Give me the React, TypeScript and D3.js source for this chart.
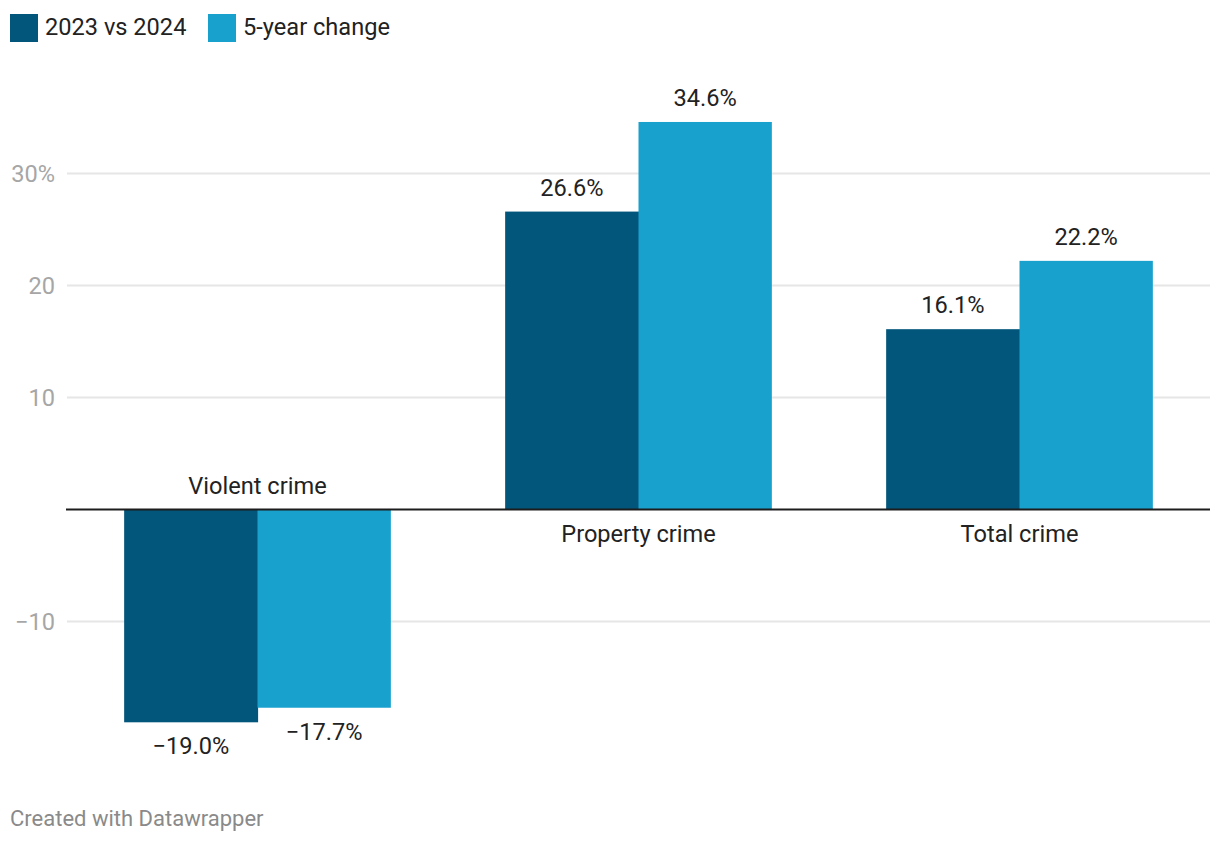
import React from "react";
import * as d3 from "d3";

const categories = ["Violent crime", "Property crime", "Total crime"];
const seriesNames = ["2023 vs 2024", "5-year change"];
const series2023vs2024 = [-19.0, 26.6, 16.1];
const seriesFiveYear = [-17.7, 34.6, 22.2];
const yTicks = [-10, 10, 20, 30];
const colors = ["#02557b", "#19a1cd"];

const fmtVal = (v: number) => (v < 0 ? "\u2212" : "") + Math.abs(v).toFixed(1) + "%";
const fmtTick = (v: number) => (v < 0 ? "\u2212" : "") + Math.abs(v) + (v === 30 ? "%" : "");

export default function App() {
  const W = 1220, H = 844;
  const x0 = d3.scaleBand<string>().domain(categories).range([67, 1210]).paddingInner(0.3).paddingOuter(0.15);
  const x1 = d3.scaleBand<string>().domain(seriesNames).range([0, x0.bandwidth()]);
  const y = d3.scaleLinear().domain([-10, 30]).range([621.5, 173.5]);
  const values = [series2023vs2024, seriesFiveYear];
  const font = "Roboto, 'Noto Sans', sans-serif";
  const fs = 23.6;
  const zero = y(0);

  return (
    <svg width={W} height={H} style={{ position: "absolute", left: 0, top: 0, background: "#fff" }} fontFamily={font}>
      {/* legend */}
      {seriesNames.map((s, i) => {
        const lx = i === 0 ? 10 : 208;
        return (
          <g key={s}>
            <rect x={lx} y={14} width={28} height={28} fill={colors[i]} />
            <text x={lx + 35} y={35} fontSize={fs} fill="#222">{s}</text>
          </g>
        );
      })}
      {/* grid */}
      {yTicks.map((t) => (
        <g key={t}>
          <line x1={67} x2={1210} y1={y(t)} y2={y(t)} stroke="#e6e6e6" strokeWidth={2} />
          <text x={55} y={y(t)} dy="0.35em" textAnchor="end" fontSize={fs} fill="#a6a6a6">{fmtTick(t)}</text>
        </g>
      ))}
      {/* bars */}
      {categories.map((c, ci) => (
        <g key={c} transform={`translate(${x0(c)},0)`}>
          {seriesNames.map((s, si) => {
            const v = values[si][ci];
            const top = v >= 0 ? y(v) : zero;
            const h = Math.abs(y(v) - zero);
            const cx = (x1(s) as number) + x1.bandwidth() / 2;
            return (
              <g key={s}>
                <rect x={x1(s)} y={top} width={x1.bandwidth() + (si === 0 ? 0.6 : 0)} height={h} fill={colors[si]} />
                <text x={cx} y={v >= 0 ? y(v) - 16 : y(v) + 32} textAnchor="middle" fontSize={fs} fill="#222">{fmtVal(v)}</text>
              </g>
            );
          })}
          <text
            x={x0.bandwidth() / 2}
            y={values[0][ci] < 0 ? zero - 15.5 : zero + 32.5}
            textAnchor="middle"
            fontSize={fs}
            fill="#222"
          >{c}</text>
        </g>
      ))}
      {/* zero line */}
      <line x1={66} x2={1210} y1={zero} y2={zero} stroke="#1d1d1d" strokeWidth={2} />
      {/* footer */}
      <text x={10} y={826} fontSize={22} fill="#8a8a8a">Created with Datawrapper</text>
    </svg>
  );
}
